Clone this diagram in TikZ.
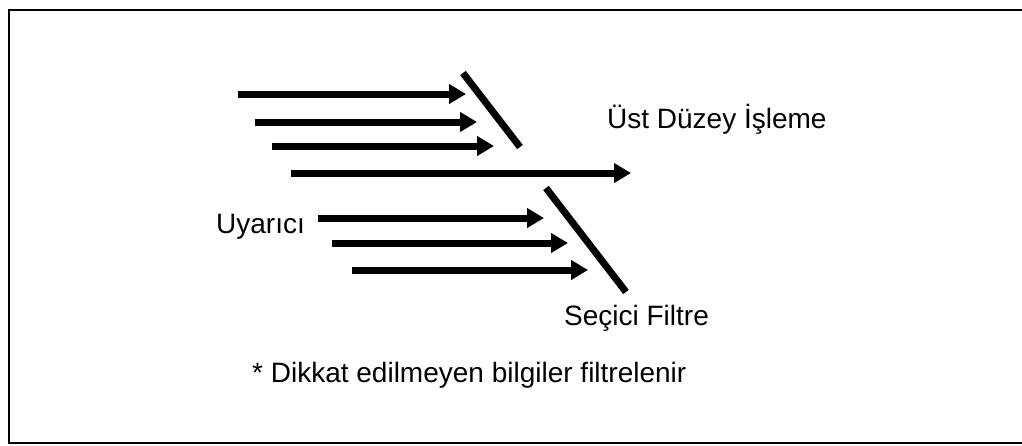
\documentclass[tikz,border=0pt]{standalone}
\usepackage{fontspec}
\setmainfont{Liberation Sans}
\usetikzlibrary{arrows.meta}
\begin{document}
\begin{tikzpicture}[x=1pt,y=-1pt,
  flow/.style={line width=7pt,-{Triangle[length=17pt,width=19pt]}},
  filter/.style={line width=7pt},
  lbl/.style={anchor=base west,inner sep=0pt,font=\fontsize{28}{32}\selectfont}]
\useasboundingbox (0,0) rectangle (1022,445);
\draw[line width=2pt] (1023,10) -- (9,10) -- (9,443) -- (1023,443);
% upper group
\coordinate (a1s) at (238,94);  \coordinate (a1e) at (466,94);
\coordinate (a2s) at (255,122); \coordinate (a2e) at (477,122);
\coordinate (a3s) at (272,146); \coordinate (a3e) at (494,146);
\coordinate (a4s) at (291,173); \coordinate (a4e) at (631,173);
\draw[flow] (a1s) -- (a1e);
\draw[flow] (a2s) -- (a2e);
\draw[flow] (a3s) -- (a3e);
\draw[flow] (a4s) -- (a4e);
\coordinate (f1a) at (463,73); \coordinate (f1b) at (520,147);
\draw[filter] (f1a) -- (f1b);
% lower group
\coordinate (b1s) at (318,218); \coordinate (b1e) at (544,218);
\coordinate (b2s) at (332,243); \coordinate (b2e) at (568,243);
\coordinate (b3s) at (352,270); \coordinate (b3e) at (588,270);
\draw[flow] (b1s) -- (b1e);
\draw[flow] (b2s) -- (b2e);
\draw[flow] (b3s) -- (b3e);
\coordinate (f2a) at (546,188); \coordinate (f2b) at (626,292);
\draw[filter] (f2a) -- (f2b);
% labels
\node[lbl] (ust) at (607,128) {Üst Düzey İşleme};
\node[lbl] (uyar) at (216,233) {Uyarıcı};
\node[lbl] (secici) at (564,325) {Seçici Filtre};
\node[lbl] (note) at (252,382) {* Dikkat edilmeyen bilgiler filtrelenir};
\end{tikzpicture}
\end{document}
